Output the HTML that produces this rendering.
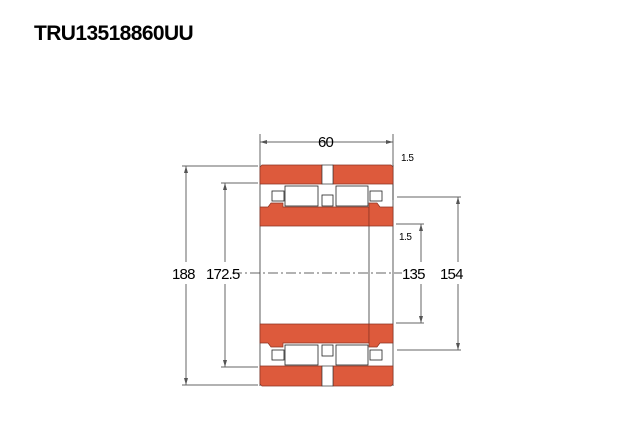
<!DOCTYPE html>
<html><head><style>
body{margin:0;background:#fff;width:640px;height:440px;overflow:hidden}
svg{display:block}
</style></head><body>
<svg width="640" height="440" viewBox="0 0 640 440" xmlns="http://www.w3.org/2000/svg" font-family="Liberation Sans, sans-serif">
<text x="34" y="40" font-size="21" font-weight="bold" letter-spacing="-0.6" fill="#000">TRU13518860UU</text>
<g stroke="#666" stroke-width="1" fill="none">
<!-- 60 -->
<line x1="260" y1="134" x2="260" y2="165"/><line x1="393" y1="134" x2="393" y2="200"/>
<line x1="260" y1="142" x2="393" y2="142"/>
<!-- 188 -->
<line x1="182" y1="166" x2="258" y2="166"/><line x1="182" y1="385" x2="258" y2="385"/>
<line x1="186" y1="166" x2="186" y2="262"/><line x1="186" y1="284" x2="186" y2="385"/>
<!-- 172.5 -->
<line x1="221" y1="183" x2="258" y2="183"/><line x1="221" y1="367" x2="258" y2="367"/>
<line x1="225" y1="183" x2="225" y2="262"/><line x1="225" y1="284" x2="225" y2="367"/>
<!-- 135 -->
<line x1="396" y1="224" x2="424" y2="224"/><line x1="396" y1="323" x2="424" y2="323"/>
<line x1="421" y1="224" x2="421" y2="262"/><line x1="421" y1="284" x2="421" y2="323"/>
<!-- 154 -->
<line x1="397" y1="197" x2="461" y2="197"/><line x1="397" y1="350" x2="461" y2="350"/>
<line x1="458" y1="197" x2="458" y2="262"/><line x1="458" y1="284" x2="458" y2="350"/>
<!-- center line -->
<line x1="232" y1="273" x2="402" y2="273" stroke-dasharray="10,3,2,3"/>
</g>
<g fill="#555">
<path d="M260 142 l7 -2 v4z M393 142 l-7 -2 v4z"/>
<path d="M186 166 l-2 7 h4z M186 385 l-2 -7 h4z"/>
<path d="M225 183 l-2 7 h4z M225 367 l-2 -7 h4z"/>
<path d="M421 224 l-2 7 h4z M421 323 l-2 -7 h4z"/>
<path d="M458 197 l-2 7 h4z M458 350 l-2 -7 h4z"/>
</g>
<g font-size="15" fill="#000" letter-spacing="-0.8">
<text x="318" y="147">60</text>
<text x="172" y="279">188</text>
<text x="206" y="279">172.5</text>
<text x="402" y="279">135</text>
<text x="440" y="279">154</text>
</g>
<g font-size="10" fill="#000" letter-spacing="-0.5">
<text x="401" y="161">1.5</text>
<text x="399" y="240">1.5</text>
</g>
<!-- bearing -->
<g stroke="#333" stroke-width="0.8">
<line x1="260" y1="165" x2="260" y2="386"/><line x1="393" y1="165" x2="393" y2="386"/>
<line x1="369" y1="207" x2="369" y2="343"/>
</g>
<g fill="#dd5a3c" stroke="#8a3322" stroke-width="0.7">
<!-- top outer ring -->
<path d="M262 165 h60 v19 h-62 v-17z"/><path d="M333 165 h58 l2 2 v17 h-60z"/>
<!-- top inner ring -->
<path d="M260 207 h8 l3 -4 h12 v4 h86 v19 h-109z"/><path d="M369 207 v-4 h8 l3 4 h13 v19 h-24z"/>
<!-- bottom inner ring -->
<path d="M260 324 h109 v19 h-86 v4 h-12 l-3 -4 h-8z"/><path d="M369 324 h24 v19 h-13 l-3 4 h-8z"/>
<!-- bottom outer ring -->
<path d="M260 366 h62 v20 h-60 l-2 -2z"/><path d="M333 366 h60 v18 l-2 2 h-58z"/>
</g>
<g fill="#fff" stroke="#222" stroke-width="0.8">
<rect x="285" y="186" width="33" height="20"/><rect x="336" y="186" width="32" height="20"/>
<rect x="285" y="345" width="33" height="20"/><rect x="336" y="345" width="32" height="20"/>
<rect x="272" y="191" width="12" height="10"/><rect x="370" y="191" width="12" height="10"/>
<rect x="272" y="350" width="12" height="10"/><rect x="370" y="350" width="12" height="10"/>
<rect x="322" y="195" width="11" height="11"/><rect x="322" y="345" width="11" height="11"/>
</g>
<g fill="#fff" stroke="#333" stroke-width="0.7">
<rect x="322" y="165" width="11" height="19"/><rect x="322" y="366" width="11" height="20"/>
</g>
</svg>
</body></html>
